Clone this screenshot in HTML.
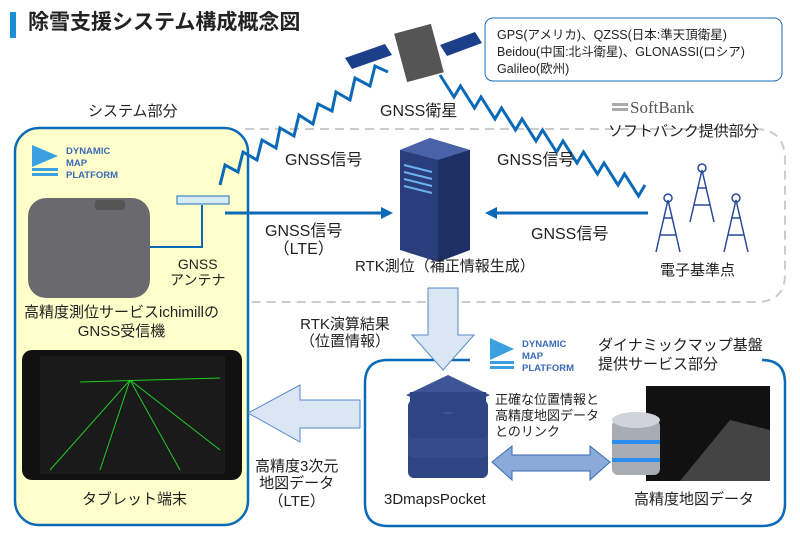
<!DOCTYPE html>
<html><head><meta charset="utf-8"><style>
body{margin:0;width:800px;height:540px;background:#fff;position:relative;overflow:hidden;font-family:"Liberation Sans","Noto Sans CJK JP",sans-serif;color:#222}
.t{position:absolute;white-space:nowrap;line-height:1.15}
</style></head><body>
<svg width="800" height="540" style="position:absolute;left:0;top:0">
<rect x="10" y="12" width="6" height="26" fill="#1a8fd6"/>
<path d="M245 129 H755 Q785 129 785 160 V275 Q785 302 755 302 H245" fill="none" stroke="#ccc" stroke-width="2" stroke-dasharray="9,6"/>
<rect x="485" y="18" width="297" height="63" rx="8" fill="#fff" stroke="#1a6fb8" stroke-width="1"/>
<rect x="15" y="128" width="233" height="397" rx="24" fill="#ffffcc" stroke="#0a6ab8" stroke-width="2.5"/>
<path d="M470 360 H388 Q365 360 365 383 V503 Q365 526 388 526 H762 Q785 526 785 503 V383 Q785 360 762 360" fill="#fff" stroke="#0a6ab8" stroke-width="2.5"/>
<polyline points="220,185 225,165 238,172 243,152 257,160 262,140 276,148 280,128 294,136 299,115 313,124 318,104 332,111 336,92 350,100 355,78 370,86 375,66 388,72" fill="none" stroke="#0a6ab8" stroke-width="3"/>
<polyline points="440,75 454,97 460.5,86 474.5,108 481,97 495,119 501.5,108 515.5,130 522,119 536,141 542.5,130 556.5,152 563,141 577,163 583.5,152 597.5,174 604,163 618,185 624.5,174 638.5,196 645,185" fill="none" stroke="#0a6ab8" stroke-width="3"/>
<ellipse cx="203" cy="200" rx="26" ry="4" fill="#d8ecf8" stroke="#1a6fb8"/>
<rect x="177" y="196" width="52" height="8" fill="#d8ecf8" stroke="#1a6fb8"/>
<polyline points="150,247 202,247 202,205" fill="none" stroke="#0a6ab8" stroke-width="2"/>
<line x1="225" y1="213" x2="383" y2="213" stroke="#0a6ab8" stroke-width="3"/>
<polygon points="393,213 381,207 381,219" fill="#0a6ab8"/>
<line x1="648" y1="213" x2="495" y2="213" stroke="#0a6ab8" stroke-width="3"/>
<polygon points="485,213 497,207 497,219" fill="#0a6ab8"/>
<polygon points="345,58 385,44 392,55 352,69" fill="#1c3f8a"/>
<polygon points="440,45 475,32 482,43 447,56" fill="#1c3f8a"/>
<rect x="400" y="28" width="38" height="50" fill="#555" transform="rotate(-15 419 53)"/>
<polygon points="400,150 430,138 470,150 470,250 438,262 400,250" fill="#2a3e7c"/>
<polygon points="400,150 430,138 470,150 438,160" fill="#4a62a8"/>
<polygon points="438,160 470,150 470,250 438,262" fill="#1e2f66"/>
<g stroke="#6ab0f0" stroke-width="2"><line x1="404" y1="165" x2="432" y2="172"/><line x1="404" y1="172" x2="432" y2="179"/><line x1="404" y1="179" x2="432" y2="186"/><line x1="404" y1="186" x2="432" y2="193"/></g>
<g fill="none" stroke="#2a4a9a" stroke-width="1.5">
<path d="M656 252 L668 200 L680 252 M660 235 L676 235 M663 218 L673 218"/>
<path d="M690 222 L702 170 L714 222 M694 205 L710 205 M697 188 L707 188"/>
<path d="M724 252 L736 200 L748 252 M728 235 L744 235 M731 218 L741 218"/>
<circle cx="668" cy="198" r="4"/><circle cx="702" cy="168" r="4"/><circle cx="736" cy="198" r="4"/>
</g>
<polygon points="428,288 458,288 458,335 474,335 443,370 412,335 428,335" fill="#dbe6f5" stroke="#5a8ac8" stroke-width="1"/>
<polygon points="360,400 300,400 300,385 248,413 300,442 300,428 360,428" fill="#dbe6f5" stroke="#5a8ac8" stroke-width="1"/>
<polygon points="492,462 512,446 512,455 590,455 590,446 610,462 590,480 590,471 512,471 512,480" fill="#8aaad8" stroke="#3a6ab8" stroke-width="1"/>
<g>
<rect x="408" y="440" width="80" height="38" rx="6" fill="#2d4582"/>
<rect x="408" y="420" width="80" height="38" rx="6" fill="#344c8c"/>
<rect x="408" y="400" width="80" height="38" rx="6" fill="#2d4582"/>
<polygon points="448,375 490,395 448,415 406,395" fill="#3d5596"/>
<rect x="410" y="392" width="76" height="20" fill="#2d4582"/>
</g>
<rect x="646" y="386" width="124" height="95" fill="#111"/>
<polygon points="680,481 730,420 770,430 770,481" fill="#444"/>
<rect x="612" y="420" width="48" height="55" rx="6" fill="#a8acb4"/>
<ellipse cx="636" cy="420" rx="24" ry="8" fill="#d0d4da"/>
<rect x="612" y="440" width="48" height="4" fill="#2a8ef0"/><rect x="612" y="458" width="48" height="4" fill="#2a8ef0"/>
<rect x="28" y="198" width="122" height="100" rx="18" fill="#6a6a6e"/>
<rect x="95" y="200" width="30" height="10" rx="3" fill="#555"/>
<rect x="22" y="350" width="220" height="130" rx="10" fill="#111"/>
<rect x="40" y="356" width="185" height="118" fill="#1a1a1a"/>
<g stroke="#2c2" stroke-width="1"><line x1="130" y1="380" x2="50" y2="470"/><line x1="130" y1="380" x2="100" y2="470"/><line x1="130" y1="380" x2="180" y2="470"/><line x1="130" y1="380" x2="220" y2="450"/><line x1="80" y1="382" x2="220" y2="378"/></g>
<g fill="#3aa0e0"><polygon points="32,145 58,156 32,167"/><rect x="32" y="168" width="26" height="3"/><rect x="32" y="173" width="26" height="3"/></g>
<g fill="#3aa0e0"><polygon points="490,338 514,349 490,360"/><rect x="490" y="361" width="24" height="3"/><rect x="490" y="366" width="24" height="3"/></g>
<rect x="612" y="103" width="16" height="3" fill="#aaa"/><rect x="612" y="108" width="16" height="3" fill="#aaa"/>
</svg>
<div class="t" style="left:28px;top:11px;font-size:21px;font-weight:bold;color:#222">除雪支援システム構成概念図</div>
<div class="t" style="left:497px;top:27px;font-size:12.5px;line-height:17px">GPS(アメリカ)、QZSS(日本:準天頂衛星)<br>Beidou(中国:北斗衛星)、GLONASSI(ロシア)<br>Galileo(欧州)</div>
<div class="t" style="left:380px;top:103px;font-size:16px">GNSS衛星</div>
<div class="t" style="left:630px;top:98px;font-size:17px;font-family:'Liberation Serif',serif;color:#555">SoftBank</div>
<div class="t" style="left:608px;top:123px;font-size:15px">ソフトバンク提供部分</div>
<div class="t" style="left:88px;top:103px;font-size:15px">システム部分</div>
<div class="t" style="left:66px;top:146px;font-size:9.5px;font-weight:bold;color:#3a6ab8;line-height:12px">DYNAMIC<br>MAP<br>PLATFORM</div>
<div class="t" style="left:522px;top:339px;font-size:9.5px;font-weight:bold;color:#3a6ab8;line-height:12px">DYNAMIC<br>MAP<br>PLATFORM</div>
<div class="t" style="left:285px;top:152px;font-size:16px">GNSS信号</div>
<div class="t" style="left:497px;top:152px;font-size:16px">GNSS信号</div>
<div class="t" style="left:531px;top:226px;font-size:16px">GNSS信号</div>
<div class="t" style="left:265px;top:223px;font-size:16px;text-align:center">GNSS信号<br>（LTE）</div>
<div class="t" style="left:170px;top:256px;font-size:14px;text-align:center">GNSS<br>アンテナ</div>
<div class="t" style="left:355px;top:258px;font-size:15px">RTK測位（補正情報生成）</div>
<div class="t" style="left:660px;top:262px;font-size:15px">電子基準点</div>
<div class="t" style="left:24px;top:303px;font-size:15px;text-align:center;line-height:19px">高精度測位サービスichimillの<br>GNSS受信機</div>
<div class="t" style="left:300px;top:316px;font-size:15px;text-align:center">RTK演算結果<br>（位置情報）</div>
<div class="t" style="left:598px;top:336px;font-size:15px;line-height:19px">ダイナミックマップ基盤<br>提供サービス部分</div>
<div class="t" style="left:495px;top:392px;font-size:13px;line-height:16px">正確な位置情報と<br>高精度地図データ<br>とのリンク</div>
<div class="t" style="left:255px;top:458px;font-size:15px;text-align:center">高精度3次元<br>地図データ<br>（LTE）</div>
<div class="t" style="left:82px;top:491px;font-size:15px">タブレット端末</div>
<div class="t" style="left:384px;top:491px;font-size:15px">3DmapsPocket</div>
<div class="t" style="left:634px;top:491px;font-size:15px">高精度地図データ</div>
</body></html>
